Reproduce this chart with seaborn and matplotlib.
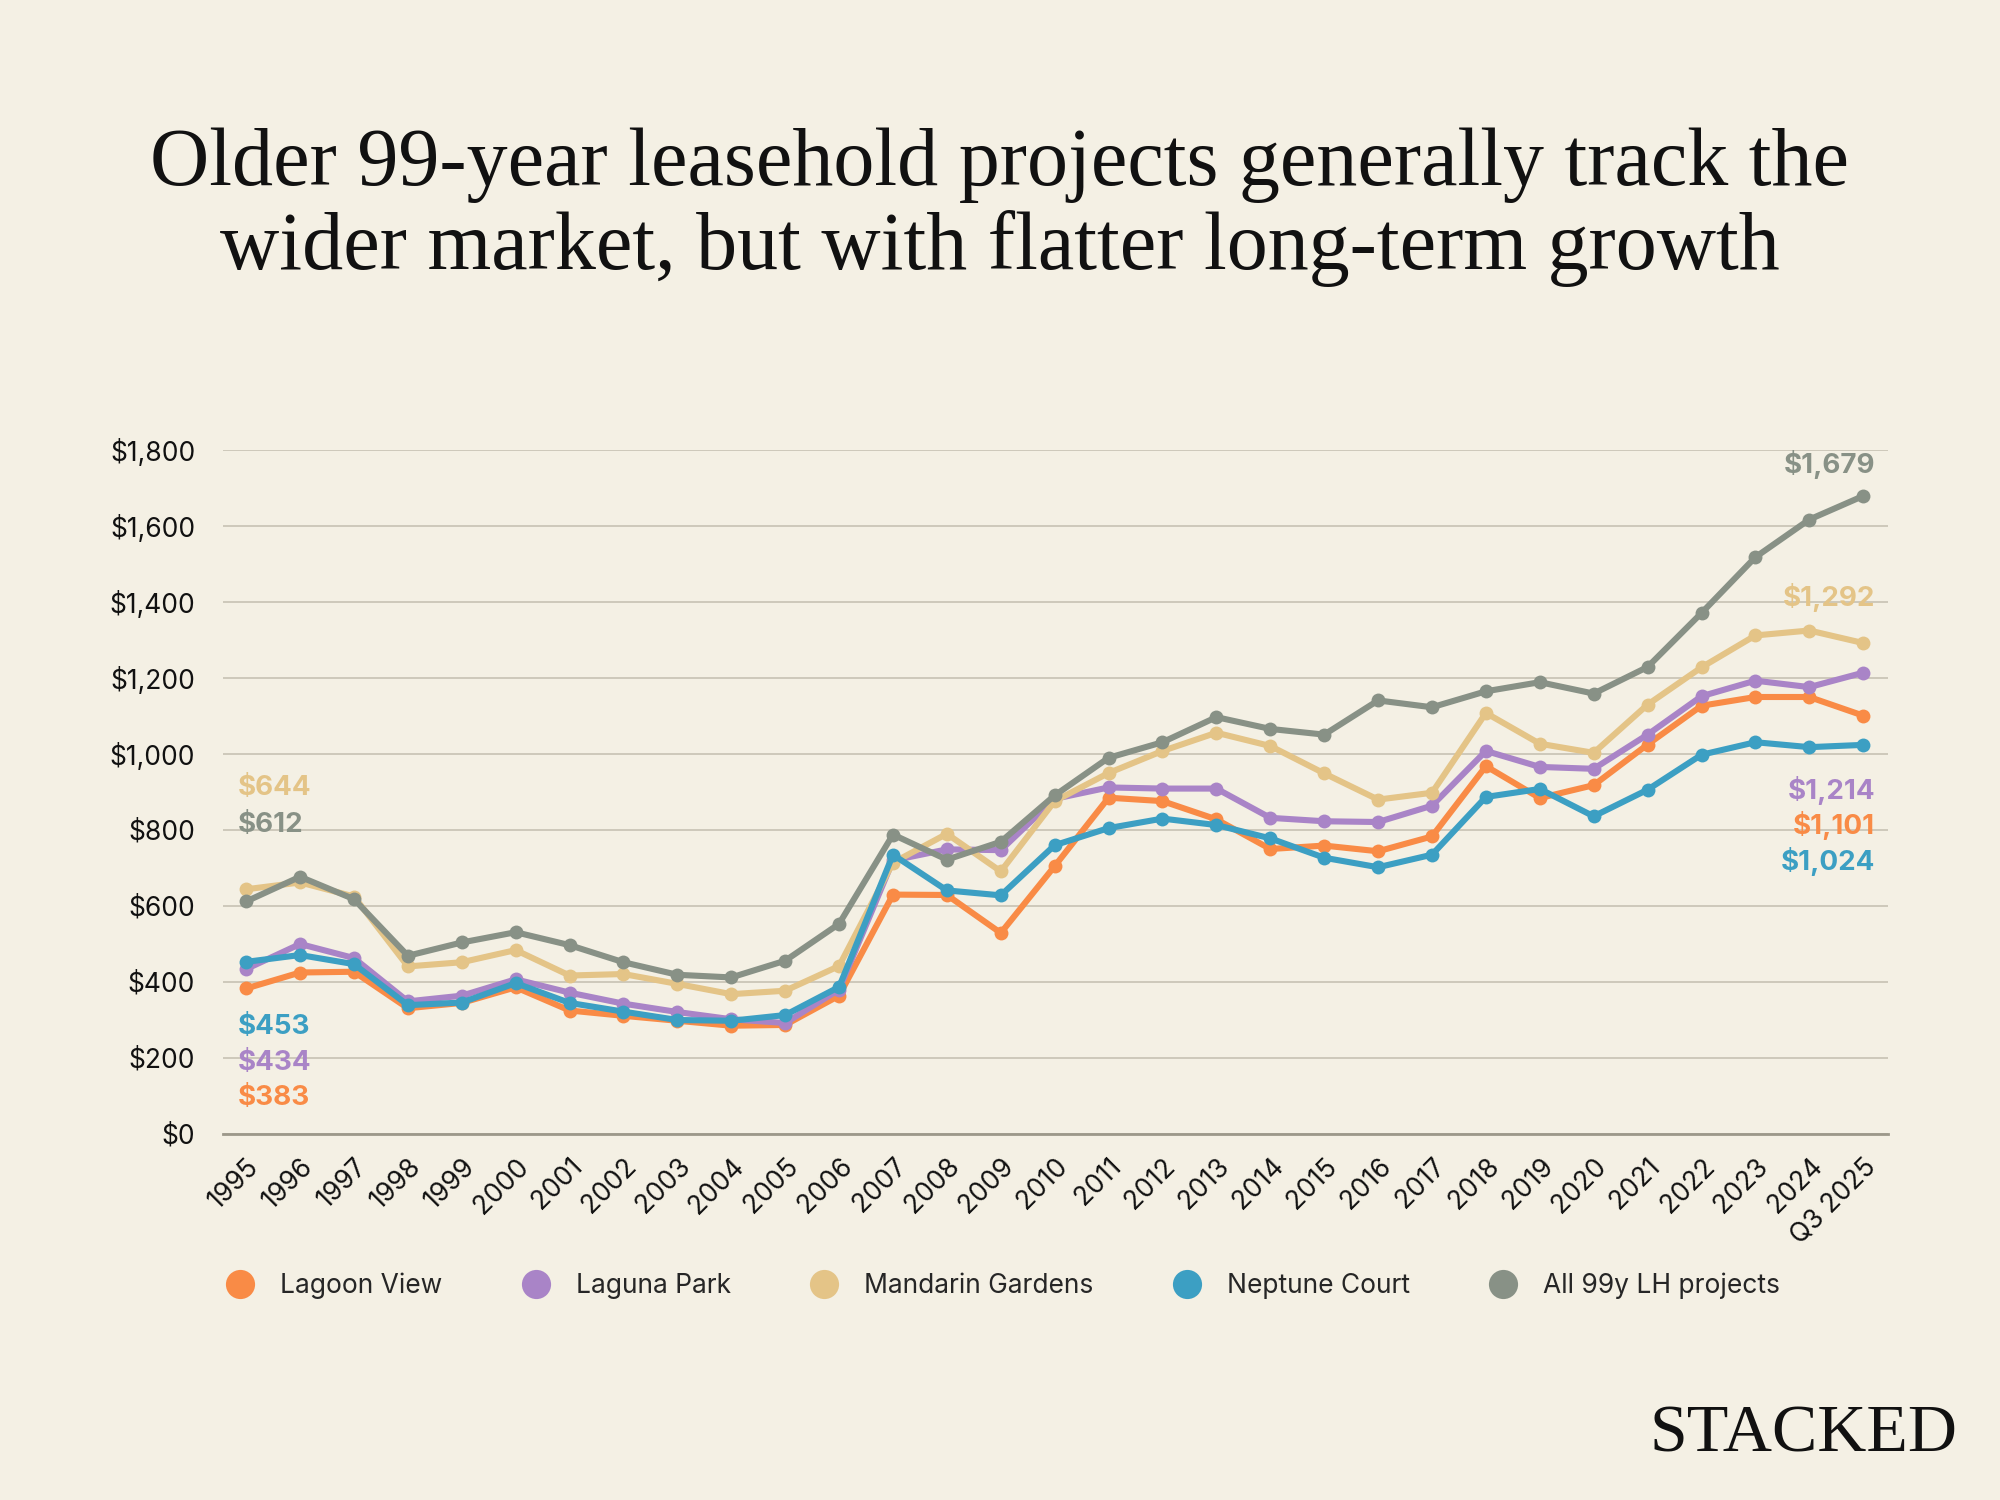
import numpy as np
import pandas as pd
import matplotlib
matplotlib.use("Agg")
import matplotlib.pyplot as plt
from matplotlib.lines import Line2D
import seaborn as sns

# Data (PSF, $)
years = [str(y) for y in range(1995, 2025)] + ["Q3 2025"]

lagoon_view = [383, 425, 427, 331, 345, 386, 325, 311, 298, 285, 287, 364, 630, 629, 529,
               705, 885, 876, 828, 750, 759, 744, 783, 968, 884, 918, 1025, 1127, 1150, 1150, 1101]
laguna_park = [434, 500, 463, 349, 364, 407, 372, 343, 321, 302, 292, 380, 720, 749, 747,
               882, 912, 909, 909, 832, 823, 821, 864, 1008, 966, 961, 1051, 1152, 1193, 1176, 1214]
mandarin_gardens = [644, 662, 625, 441, 452, 484, 417, 421, 395, 368, 377, 442, 714, 790, 691,
                    876, 950, 1008, 1056, 1021, 949, 880, 898, 1108, 1027, 1003, 1130, 1228, 1312, 1325, 1292]
neptune_court = [453, 471, 447, 339, 346, 397, 345, 322, 300, 298, 313, 387, 735, 641, 628,
                 760, 805, 830, 813, 778, 727, 702, 735, 887, 908, 836, 906, 998, 1031, 1018, 1024]
all_99y = [612, 677, 618, 469, 504, 531, 497, 452, 419, 412, 456, 553, 788, 722, 769,
           891, 990, 1031, 1097, 1066, 1051, 1141, 1123, 1165, 1189, 1159, 1229, 1371, 1518, 1617, 1679]

series_names = ["Lagoon View", "Laguna Park", "Mandarin Gardens", "Neptune Court", "All 99y LH projects"]
series_values = [lagoon_view, laguna_park, mandarin_gardens, neptune_court, all_99y]

COLORS = {
    "Lagoon View": "#F98B46",
    "Laguna Park": "#A984C7",
    "Mandarin Gardens": "#E4C487",
    "Neptune Court": "#3C9FC3",
    "All 99y LH projects": "#889186",
}
BG = "#F4F0E4"

# long-form table for seaborn
rows = []
for name, vals in zip(series_names, series_values):
    for i, v in enumerate(vals):
        rows.append({"pos": i, "year": years[i], "series": name, "psf": v})
df = pd.DataFrame(rows)

sns.set_theme(style="white")
plt.rcParams["font.family"] = ["Inter", "DejaVu Sans"]

fig = plt.figure(figsize=(20, 15), dpi=100, facecolor=BG)
ax = fig.add_axes([0.1115, 0.244, 0.8325, 0.456])
ax.set_facecolor(BG)

sns.lineplot(
    data=df, x="pos", y="psf", hue="series", hue_order=series_names,
    palette=COLORS, marker="o", markersize=10, markeredgewidth=0,
    linewidth=4.4, legend=False, sort=False, ax=ax,
)

ax.set_xlim(-0.43, 30.46)
ax.set_ylim(0, 1800)
ax.set_yticks(np.arange(0, 1801, 200))
ax.set_yticklabels([f"${v:,.0f}" for v in np.arange(0, 1801, 200)], fontsize=19)
ax.set_xticks(np.arange(len(years)))
ax.set_xticklabels(years, rotation=45, ha="right", rotation_mode="anchor", fontsize=19)
ax.tick_params(axis="both", length=0, labelcolor="#111111")
ax.tick_params(axis="y", pad=20)
ax.tick_params(axis="x", pad=14)
ax.set_xlabel("")
ax.set_ylabel("")

ax.grid(axis="y", color="#CBC5B7", linewidth=1.3)
ax.grid(axis="x", visible=False)
ax.set_axisbelow(True)
for side in ["top", "right", "left"]:
    ax.spines[side].set_visible(False)
ax.spines["bottom"].set_color("#9C988A")
ax.spines["bottom"].set_linewidth(2)

# start / end value labels
first_labels = [
    ("Mandarin Gardens", 910), ("All 99y LH projects", 813),
    ("Neptune Court", 282), ("Laguna Park", 187), ("Lagoon View", 95),
]
for name, ypos in first_labels:
    v = series_values[series_names.index(name)][0]
    ax.text(-0.15, ypos, f"${v:,}", color=COLORS[name], fontsize=20,
            fontweight="bold", ha="left", va="center")

last_labels = [
    ("All 99y LH projects", 1763), ("Mandarin Gardens", 1413),
    ("Laguna Park", 905), ("Lagoon View", 813), ("Neptune Court", 716),
]
for name, ypos in last_labels:
    v = series_values[series_names.index(name)][-1]
    ax.text(30.22, ypos, f"${v:,}", color=COLORS[name], fontsize=20,
            fontweight="bold", ha="right", va="center")

# title
fig.text(0.5, 0.862, "Older 99-year leasehold projects generally track the\n"
         "wider market, but with flatter long-term growth",
         ha="center", va="center", fontsize=59, family="Liberation Serif",
         linespacing=1.12, color="#111111")

# legend
handles = [Line2D([0], [0], marker="o", linestyle="none", markersize=21,
                  markerfacecolor=COLORS[n], markeredgewidth=0) for n in series_names]
fig.legend(handles, series_names, loc="center", bbox_to_anchor=(0.4985, 0.1427),
           ncol=5, frameon=False, fontsize=19, handletextpad=0.5,
           columnspacing=2.55)

# brand mark
fig.text(0.979, 0.043, "STACKED", ha="right", va="center", fontsize=49,
         family="Liberation Serif", color="#111111")

fig.savefig("out.png", dpi=100, facecolor=BG)
